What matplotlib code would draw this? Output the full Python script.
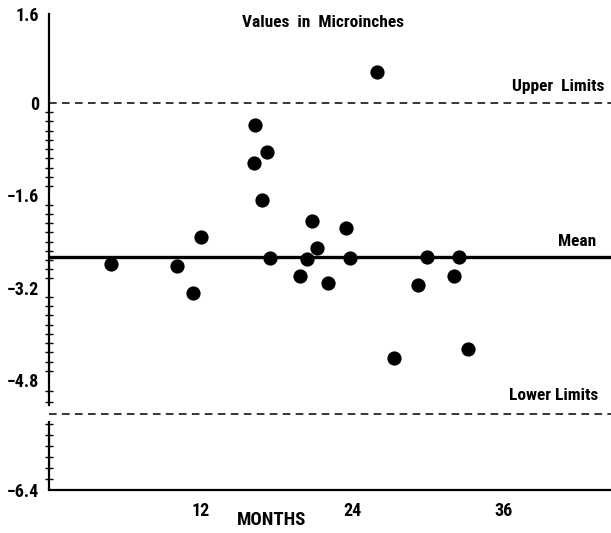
import numpy as np
import matplotlib.pyplot as plt
from matplotlib.ticker import FixedLocator, FuncFormatter

# readings (months, microinches)
months = [4.9, 10.1, 11.4, 12.0, 16.3, 16.2, 17.3, 16.9, 17.5, 19.9, 20.4, 20.8,
          21.2, 22.1, 23.5, 23.8, 26.0, 27.3, 29.2, 29.9, 32.1, 32.5, 33.2]
values = [-2.79, -2.82, -3.29, -2.32, -0.38, -1.04, -0.85, -1.68, -2.69, -3.00, -2.70, -2.04,
          -2.51, -3.12, -2.17, -2.69, 0.56, -4.42, -3.15, -2.67, -3.00, -2.67, -4.26]
mean_val = -2.67
upper_lim = 0.0
lower_lim = -5.3
y_ticks = [1.6, 0, -1.6, -3.2, -4.8, -6.4]
x_ticks = [12, 24, 36]

# the original paper scale is not quite uniform; piecewise linear mapping
knots_v = [-6.4, -4.8, 0.0, 1.6]
knots_p = [-490, -380, -103, -14]
fwd = lambda v: np.interp(v, knots_v, knots_p)
inv = lambda p: np.interp(p, knots_p, knots_v)

plt.rcParams['font.family'] = ['Roboto Condensed', 'DejaVu Sans']
plt.rcParams['font.weight'] = 'bold'

fig = plt.figure(figsize=(6.11, 5.33), dpi=100)
ax = fig.add_axes([49/611, 43/533, 562/611, 476/533])
ax.set_yscale('function', functions=(fwd, inv))
ax.set_xlim(0, 44.5)
ax.set_ylim(-6.4, 1.6)

ax.axhline(mean_val, color='black', lw=2.4)
ax.axhline(upper_lim, color='black', lw=1.1, ls=(0, (5, 3.5)))
ax.axhline(lower_lim, color='black', lw=1.1, ls=(0, (5, 3.5)))
ax.scatter(months, values, s=105, color='black', zorder=3, lw=0)

for s in ['top', 'right']:
    ax.spines[s].set_visible(False)
ax.spines['bottom'].set_linewidth(1.6)
ax.spines['left'].set_linewidth(1.6)
ax.spines['left'].set_bounds(-5.17, 1.65)
ax.plot([0, 0], [-6.4, -5.4], color='black', lw=1.6, transform=ax.get_yaxis_transform(),
        clip_on=False, solid_capstyle='butt')

ax.yaxis.set_major_locator(FixedLocator(y_ticks))
ax.yaxis.set_major_formatter(FuncFormatter(lambda v, p: '0' if v == 0 else f'{v:.1f}'.replace('-', '\u2212')))
minor = [m for m in np.arange(0, -6.41, -0.16) if not (-5.42 < m < -5.15)]
ax.yaxis.set_minor_locator(FixedLocator(minor))
ax.tick_params(axis='y', which='major', length=0, pad=7, labelsize=13)
ax.tick_params(axis='y', which='minor', direction='inout', length=6, width=1)

ax.xaxis.set_major_locator(FixedLocator(x_ticks))
ax.tick_params(axis='x', which='major', length=0, pad=9, labelsize=13)

ax.text(21.7, 1.45, 'Values  in  Microinches', ha='center', va='center', fontsize=12.5)
ax.text(44.0, upper_lim + 0.3, 'Upper  Limits', ha='right', va='center', fontsize=12.5)
ax.text(41.8, mean_val + 0.27, 'Mean', ha='center', va='center', fontsize=12.5)
ax.text(43.5, lower_lim + 0.27, 'Lower Limits', ha='right', va='center', fontsize=12.5)
fig.text(272/611, 1 - 520/533, 'MONTHS', ha='center', va='center', fontsize=13.5)

fig.savefig('out.png', dpi=100)
